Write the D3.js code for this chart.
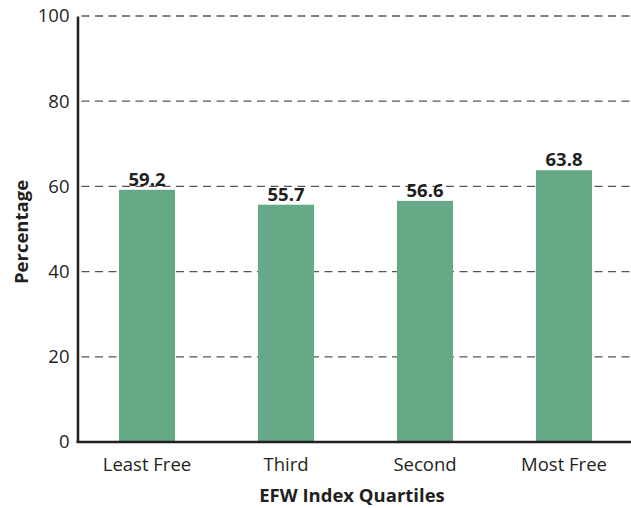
<!DOCTYPE html>
<html lang="en">
<head>
<meta charset="UTF-8">
<script src="https://cdnjs.cloudflare.com/ajax/libs/d3/7.8.5/d3.min.js"></script>
<style>
    body { margin: 0; background: #fff; }
    text { font-family: "Open Sans", "Noto Sans", sans-serif; fill: #231f20; }
</style>
</head>
<body>
<svg id="chart" width="631" height="508"></svg>
<script>
    var categories = ["Least Free", "Third", "Second", "Most Free"];
    var values = [59.2, 55.7, 56.6, 63.8];
    var yTicks = [0, 20, 40, 60, 80, 100];

    var svg = d3.select("#chart");
    var plotLeft = 77.5, plotRight = 633.5, plotTop = 16, plotBottom = 442;

    var x = d3.scaleBand()
        .domain(categories)
        .range([plotLeft, plotRight])
        .paddingInner(0.597)
        .paddingOuter(0.2985);

    var y = d3.scaleLinear().domain([0, 100]).range([plotBottom, plotTop]);

    // dashed grid
    svg.append("g")
        .selectAll("line")
        .data(yTicks.filter(function (d) { return d > 0; }))
        .join("line")
        .attr("x1", plotLeft + 4)
        .attr("x2", 631)
        .attr("y1", function (d) { return y(d); })
        .attr("y2", function (d) { return y(d); })
        .attr("stroke", "#555")
        .attr("stroke-width", 1.3)
        .attr("stroke-dasharray", "8,5.5");

    // bars
    svg.append("g")
        .selectAll("rect")
        .data(values)
        .join("rect")
        .attr("x", function (d, i) { return x(categories[i]); })
        .attr("width", x.bandwidth())
        .attr("y", function (d) { return y(d); })
        .attr("height", function (d) { return y(0) - y(d); })
        .attr("fill", "#65a986");

    // value labels
    svg.append("g")
        .selectAll("text")
        .data(values)
        .join("text")
        .attr("x", function (d, i) { return x(categories[i]) + x.bandwidth() / 2; })
        .attr("y", function (d) { return y(d) - 4; })
        .attr("text-anchor", "middle")
        .attr("font-size", 18.5)
        .attr("font-weight", "bold")
        .text(function (d) { return d.toFixed(1); });

    // y axis
    var yAxis = svg.append("g")
        .attr("transform", "translate(" + plotLeft + ",0)")
        .call(d3.axisLeft(y).tickValues(yTicks).tickSize(0).tickPadding(8));
    yAxis.select(".domain").attr("stroke", "#231f20").attr("stroke-width", 2.5);
    yAxis.selectAll("text")
        .attr("font-size", 18.5)
        .attr("font-family", "Open Sans, Noto Sans, sans-serif")
        .attr("fill", "#231f20");

    // x axis
    var xAxis = svg.append("g")
        .attr("transform", "translate(0," + plotBottom + ")")
        .call(d3.axisBottom(x).tickSize(0).tickPadding(16));
    xAxis.select(".domain").remove();
    xAxis.append("line")
        .attr("x1", plotLeft - 1).attr("x2", 631)
        .attr("stroke", "#231f20").attr("stroke-width", 2.5);
    xAxis.selectAll("text")
        .attr("font-size", 18.5)
        .attr("font-family", "Open Sans, Noto Sans, sans-serif")
        .attr("fill", "#231f20");

    // axis titles
    svg.append("text")
        .attr("x", 352)
        .attr("y", 502)
        .attr("text-anchor", "middle")
        .attr("font-size", 18.5)
        .attr("font-weight", "bold")
        .text("EFW Index Quartiles");

    svg.append("text")
        .attr("transform", "translate(28," + ((plotTop + plotBottom) / 2 + 3) + ") rotate(-90)")
        .attr("text-anchor", "middle")
        .attr("font-size", 18.5)
        .attr("font-weight", "bold")
        .text("Percentage");
</script>
</body>
</html>
